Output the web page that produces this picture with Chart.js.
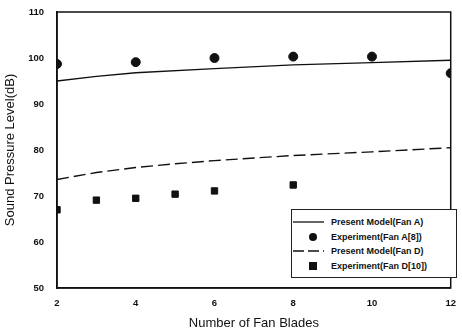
<!DOCTYPE html>
<html>
<head>
<meta charset="utf-8">
<script src="https://cdn.jsdelivr.net/npm/chart.js@4/dist/chart.umd.min.js"></script>
<style>
html,body{margin:0;padding:0;background:#fff}
#wrap{position:relative;width:462px;height:335px}
#legenda{position:absolute;left:291px;top:209px;width:166px;height:69px;border:1px solid #222;background:#fff;box-sizing:border-box;padding-top:5px;font:bold 9px "Liberation Sans",Arial,sans-serif;color:#111}
.item{display:flex;align-items:center;height:14.5px}
.item svg{width:32px;height:10px;margin-left:1px;margin-right:6px}
</style>
</head>
<body>
<div id="wrap">
<canvas id="grafico" width="462" height="335"></canvas>
<div id="legenda">
<div class="item"><svg><line x1="0" y1="5" x2="31" y2="5" stroke="#111" stroke-width="1.3"/></svg>Present Model(Fan A)</div>
<div class="item"><svg><circle cx="20" cy="5" r="4" fill="#111"/></svg>Experiment(Fan A[8])</div>
<div class="item"><svg><line x1="0" y1="5" x2="31" y2="5" stroke="#111" stroke-width="1.3" stroke-dasharray="11,4"/></svg>Present Model(Fan D)</div>
<div class="item"><svg><rect x="16" y="1" width="8" height="8" fill="#111"/></svg>Experiment(Fan D[10])</div>
</div>
</div>
<script>
let xModeloA=[2,3,4,6,8,10,12]
let modeloA=[95.0,96.0,96.8,97.7,98.5,99.0,99.5]
let xExpA=[2,4,6,8,10,12]
let expA=[98.7,99.1,100.0,100.3,100.3,96.7]
let xModeloD=[2,3,4,5,6,8,10,12]
let modeloD=[73.6,75.1,76.2,77.0,77.7,78.8,79.6,80.5]
let xExpD=[2,3,4,5,6,8]
let expD=[67.0,69.1,69.5,70.4,71.1,72.4]
let ticksX=[2,4,6,8,10,12]

function pontos(xs,ys){
return xs.map((x,i)=>({x:x,y:ys[i]}))
}

let fonteTick={family:'"Liberation Sans", Arial, sans-serif',size:9.5,weight:'bold'}
let fonteTitulo={family:'"Liberation Sans", Arial, sans-serif',size:13}

let moldura={
id:'moldura',
afterDatasetsDraw(chart){
let a=chart.chartArea
let c=chart.ctx
c.save()
c.strokeStyle='#111'
c.lineWidth=1.5
c.strokeRect(a.left,a.top,a.right-a.left,a.bottom-a.top)
c.restore()
}
}

new Chart(document.getElementById('grafico'),{
type:'scatter',
data:{
datasets:[
{
label:'Present Model(Fan A)',
data:pontos(xModeloA,modeloA),
showLine:true,
borderColor:'#111',
borderWidth:1.4,
pointRadius:0,
tension:0
},
{
label:'Experiment(Fan A[8])',
data:pontos(xExpA,expA),
pointStyle:'circle',
pointRadius:4.5,
backgroundColor:'#111',
borderColor:'#111'
},
{
label:'Present Model(Fan D)',
data:pontos(xModeloD,modeloD),
showLine:true,
borderColor:'#111',
borderWidth:1.4,
borderDash:[12,5],
pointRadius:0,
tension:0
},
{
label:'Experiment(Fan D[10])',
data:pontos(xExpD,expD),
pointStyle:'rect',
pointRadius:4.5,
backgroundColor:'#111',
borderColor:'#111'
}
]
},
options:{
responsive:false,
animation:false,
layout:{padding:{top:12,right:5,left:0,bottom:0}},
plugins:{
legend:{display:false},
tooltip:{enabled:false}
},
scales:{
x:{
type:'linear',
min:2,
max:12,
afterBuildTicks(s){s.ticks=ticksX.map(v=>({value:v}))},
afterFit(s){s.height=47},
grid:{display:false,drawTicks:true,tickLength:4,color:'#111'},
border:{color:'#111',width:1.5},
ticks:{color:'#111',font:fonteTick,padding:6},
title:{display:true,text:'Number of Fan Blades',color:'#111',font:fonteTitulo,padding:{top:7}}
},
y:{
min:50,
max:110,
ticks:{stepSize:10,color:'#111',font:fonteTick,padding:9},
afterFit(s){
s.width=57
s.paddingTop=0
s.paddingBottom=0
},
grid:{display:false,drawTicks:true,tickLength:4,color:'#111'},
border:{color:'#111',width:1.5},
title:{display:true,text:'Sound Pressure Level(dB)',color:'#111',font:fonteTitulo,padding:{top:3,bottom:0}}
}
}
},
plugins:[moldura]
})
</script>
</body>
</html>
